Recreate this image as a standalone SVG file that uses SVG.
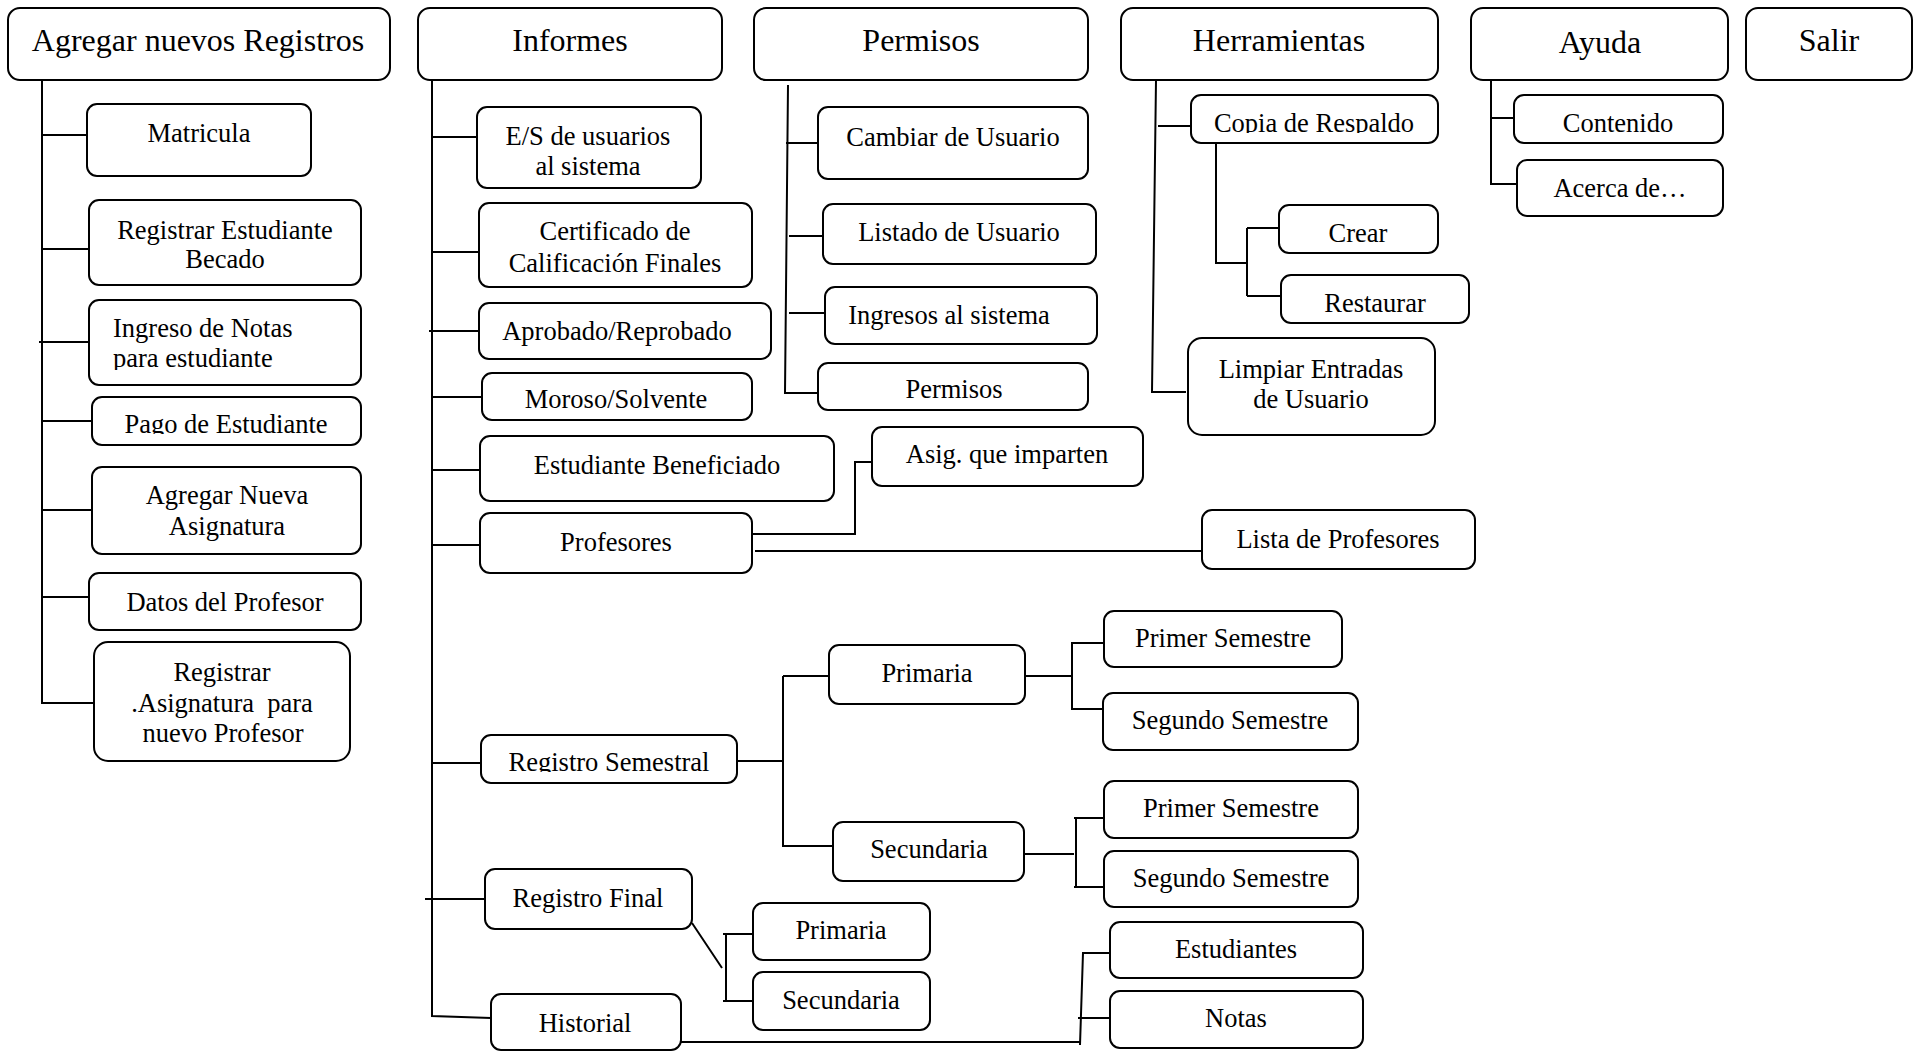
<svg xmlns="http://www.w3.org/2000/svg" width="1917" height="1051" viewBox="0 0 1917 1051">
  <style>
    .box { fill: #fff; stroke: #000; stroke-width: 2; }
    .t { font-family: "Liberation Serif", "Times New Roman", serif; font-size: 26.5px; text-anchor: middle; fill: #000; }
    .l { text-anchor: start; }
    .h { font-size: 32px; }
    .c { fill: none; stroke: #000; stroke-width: 2; }
    .pre { white-space: pre; }
  </style>
  <defs>
    <clipPath id="clip-notas" clipPathUnits="userSpaceOnUse"><rect x="89" y="300" width="272" height="70"/></clipPath>
    <clipPath id="clip-pago" clipPathUnits="userSpaceOnUse"><rect x="92" y="397" width="269" height="37"/></clipPath>
    <clipPath id="clip-semestral" clipPathUnits="userSpaceOnUse"><rect x="481" y="735" width="256" height="37"/></clipPath>
    <clipPath id="clip-copia" clipPathUnits="userSpaceOnUse"><rect x="1191" y="95" width="247" height="38"/></clipPath>
  </defs>
  <rect width="1917" height="1051" fill="#fff"/>

  <!-- connectors -->
  <g id="connectors" class="c">
    <!-- Agregar nuevos Registros -->
    <path d="M42,80 V703 H94"/>
    <path d="M42,135 H87 M42,249 H89 M39,342 H89 M42,421 H92 M42,510 H92 M42,597 H89"/>
    <!-- Informes -->
    <path d="M432,75 V1016 L491,1018"/>
    <path d="M432,137 H477 M432,252 H479 M429,331 H479 M432,397 H482 M432,470 H480 M432,545 H480 M432,763 H481 M425,899 H485"/>
    <!-- Profesores -->
    <path d="M752,534 H855 V462 H872"/>
    <path d="M755,551 H1202"/>
    <!-- Registro Semestral -->
    <path d="M734,761 H783 M783,676 V846 H833 M783,676 H829"/>
    <path d="M1025,676 H1072 M1072,642 V710 M1072,643 H1104 M1072,709 H1103"/>
    <path d="M1024,854 H1074 M1076,818 V887 M1074,818 H1104 M1074,887 H1104"/>
    <!-- Registro Final -->
    <path d="M692,923 L722,968 M726,934 V1001 M723,934 H756 M723,1001 H756"/>
    <!-- Historial -->
    <path d="M681,1042 H1080 M1080,1045 L1083,953 H1117 M1078,1018 H1110"/>
    <!-- Permisos -->
    <path d="M788,85 L785,393 H818 M786,143 H818 M789,236 H823 M789,313 H825"/>
    <!-- Herramientas -->
    <path d="M1156,80 L1152,392 H1186 M1158,126 H1191"/>
    <path d="M1216,143 V263 H1247 M1247,228 V296 M1247,228 H1279 M1247,296 H1281"/>
    <!-- Ayuda -->
    <path d="M1491,78 V184 H1517 M1491,118 H1514"/>
  </g>

  <!-- top menu -->
  <g id="n-agregar"><rect class="box" x="8" y="8" width="382" height="72" rx="12"/><text class="t h" x="198" y="51">Agregar nuevos Registros</text></g>
  <g id="n-informes"><rect class="box" x="418" y="8" width="304" height="72" rx="12"/><text class="t h" x="570" y="51">Informes</text></g>
  <g id="n-permisos"><rect class="box" x="754" y="8" width="334" height="72" rx="12"/><text class="t h" x="921" y="51">Permisos</text></g>
  <g id="n-herramientas"><rect class="box" x="1121" y="8" width="317" height="72" rx="12"/><text class="t h" x="1279" y="51">Herramientas</text></g>
  <g id="n-ayuda"><rect class="box" x="1471" y="8" width="257" height="72" rx="12"/><text class="t h" x="1600" y="53">Ayuda</text></g>
  <g id="n-salir"><rect class="box" x="1746" y="8" width="166" height="72" rx="12"/><text class="t h" x="1829" y="51">Salir</text></g>

  <!-- Agregar nuevos Registros -->
  <g id="n-matricula"><rect class="box" x="87" y="104" width="224" height="72" rx="10"/><text class="t" x="199" y="142">Matricula</text></g>
  <g id="n-becado"><rect class="box" x="89" y="200" width="272" height="85" rx="10"/><text class="t" x="225" y="239">Registrar Estudiante</text><text class="t" x="225" y="268">Becado</text></g>
  <g id="n-notas-est"><rect class="box" x="89" y="300" width="272" height="85" rx="10"/><g clip-path="url(#clip-notas)"><text class="t l" x="113" y="337">Ingreso de Notas</text><text class="t l" x="113" y="367">para estudiante</text></g></g>
  <g id="n-pago"><rect class="box" x="92" y="397" width="269" height="48" rx="10"/><text class="t" x="226" y="433" clip-path="url(#clip-pago)">Pago de Estudiante</text></g>
  <g id="n-asignatura"><rect class="box" x="92" y="467" width="269" height="87" rx="10"/><text class="t" x="227" y="504">Agregar Nueva</text><text class="t" x="227" y="535">Asignatura</text></g>
  <g id="n-datos-prof"><rect class="box" x="89" y="573" width="272" height="57" rx="10"/><text class="t" x="225" y="611">Datos del Profesor</text></g>
  <g id="n-reg-asig"><rect class="box" x="94" y="642" width="256" height="119" rx="14"/><text class="t" x="222" y="681">Registrar</text><text class="t pre" x="222" y="712">.Asignatura  para</text><text class="t" x="223" y="742">nuevo Profesor</text></g>

  <!-- Informes -->
  <g id="n-es"><rect class="box" x="477" y="107" width="224" height="81" rx="10"/><text class="t" x="588" y="145">E/S de usuarios</text><text class="t" x="588" y="175">al sistema</text></g>
  <g id="n-certificado"><rect class="box" x="479" y="203" width="273" height="84" rx="10"/><text class="t" x="615" y="240">Certificado de</text><text class="t" x="615" y="272">Calificación Finales</text></g>
  <g id="n-aprobado"><rect class="box" x="479" y="303" width="292" height="56" rx="10"/><text class="t" x="617" y="340">Aprobado/Reprobado</text></g>
  <g id="n-moroso"><rect class="box" x="482" y="373" width="270" height="47" rx="10"/><text class="t" x="616" y="408">Moroso/Solvente</text></g>
  <g id="n-beneficiado"><rect class="box" x="480" y="436" width="354" height="65" rx="10"/><text class="t" x="657" y="474">Estudiante Beneficiado</text></g>
  <g id="n-profesores"><rect class="box" x="480" y="513" width="272" height="60" rx="10"/><text class="t" x="616" y="551">Profesores</text></g>
  <g id="n-asig-imparten"><rect class="box" x="872" y="427" width="271" height="59" rx="10"/><text class="t" x="1007" y="463">Asig. que imparten</text></g>
  <g id="n-lista-prof"><rect class="box" x="1202" y="510" width="273" height="59" rx="10"/><text class="t" x="1338" y="548">Lista de Profesores</text></g>
  <g id="n-semestral"><rect class="box" x="481" y="735" width="256" height="48" rx="10"/><text class="t" x="609" y="771" clip-path="url(#clip-semestral)">Registro Semestral</text></g>
  <g id="n-sem-primaria"><rect class="box" x="829" y="645" width="196" height="59" rx="10"/><text class="t" x="927" y="682">Primaria</text></g>
  <g id="n-sem-secundaria"><rect class="box" x="833" y="822" width="191" height="59" rx="10"/><text class="t" x="929" y="858">Secundaria</text></g>
  <g id="n-pri-primer"><rect class="box" x="1104" y="611" width="238" height="56" rx="10"/><text class="t" x="1223" y="647">Primer Semestre</text></g>
  <g id="n-pri-segundo"><rect class="box" x="1103" y="693" width="255" height="57" rx="10"/><text class="t" x="1230" y="729">Segundo Semestre</text></g>
  <g id="n-sec-primer"><rect class="box" x="1104" y="781" width="254" height="57" rx="10"/><text class="t" x="1231" y="817">Primer Semestre</text></g>
  <g id="n-sec-segundo"><rect class="box" x="1104" y="851" width="254" height="56" rx="10"/><text class="t" x="1231" y="887">Segundo Semestre</text></g>
  <g id="n-final"><rect class="box" x="485" y="869" width="207" height="60" rx="10"/><text class="t" x="588" y="907">Registro Final</text></g>
  <g id="n-fin-primaria"><rect class="box" x="753" y="903" width="177" height="57" rx="10"/><text class="t" x="841" y="939">Primaria</text></g>
  <g id="n-fin-secundaria"><rect class="box" x="753" y="972" width="177" height="58" rx="10"/><text class="t" x="841" y="1009">Secundaria</text></g>
  <g id="n-historial"><rect class="box" x="491" y="994" width="190" height="56" rx="10"/><text class="t" x="585" y="1032">Historial</text></g>
  <g id="n-estudiantes"><rect class="box" x="1110" y="922" width="253" height="56" rx="10"/><text class="t" x="1236" y="958">Estudiantes</text></g>
  <g id="n-hist-notas"><rect class="box" x="1110" y="991" width="253" height="57" rx="10"/><text class="t" x="1236" y="1027">Notas</text></g>

  <!-- Permisos -->
  <g id="n-cambiar"><rect class="box" x="818" y="107" width="270" height="72" rx="10"/><text class="t" x="953" y="146">Cambiar de Usuario</text></g>
  <g id="n-listado"><rect class="box" x="823" y="204" width="273" height="60" rx="10"/><text class="t" x="959" y="241">Listado de Usuario</text></g>
  <g id="n-ingresos"><rect class="box" x="825" y="287" width="272" height="57" rx="10"/><text class="t" x="949" y="324">Ingresos al sistema</text></g>
  <g id="n-permisos-item"><rect class="box" x="818" y="363" width="270" height="47" rx="10"/><text class="t" x="954" y="398">Permisos</text></g>

  <!-- Herramientas -->
  <g id="n-copia"><rect class="box" x="1191" y="95" width="247" height="48" rx="10"/><text class="t" x="1314" y="132" clip-path="url(#clip-copia)">Copia de Respaldo</text></g>
  <g id="n-crear"><rect class="box" x="1279" y="205" width="159" height="48" rx="10"/><text class="t" x="1358" y="242">Crear</text></g>
  <g id="n-restaurar"><rect class="box" x="1281" y="275" width="188" height="48" rx="10"/><text class="t" x="1375" y="312">Restaurar</text></g>
  <g id="n-limpiar"><rect class="box" x="1188" y="338" width="247" height="97" rx="14"/><text class="t" x="1311" y="378">Limpiar Entradas</text><text class="t" x="1311" y="408">de Usuario</text></g>

  <!-- Ayuda -->
  <g id="n-contenido"><rect class="box" x="1514" y="95" width="209" height="48" rx="10"/><text class="t" x="1618" y="132">Contenido</text></g>
  <g id="n-acerca"><rect class="box" x="1517" y="160" width="206" height="56" rx="10"/><text class="t" x="1620" y="197">Acerca de…</text></g>
</svg>
